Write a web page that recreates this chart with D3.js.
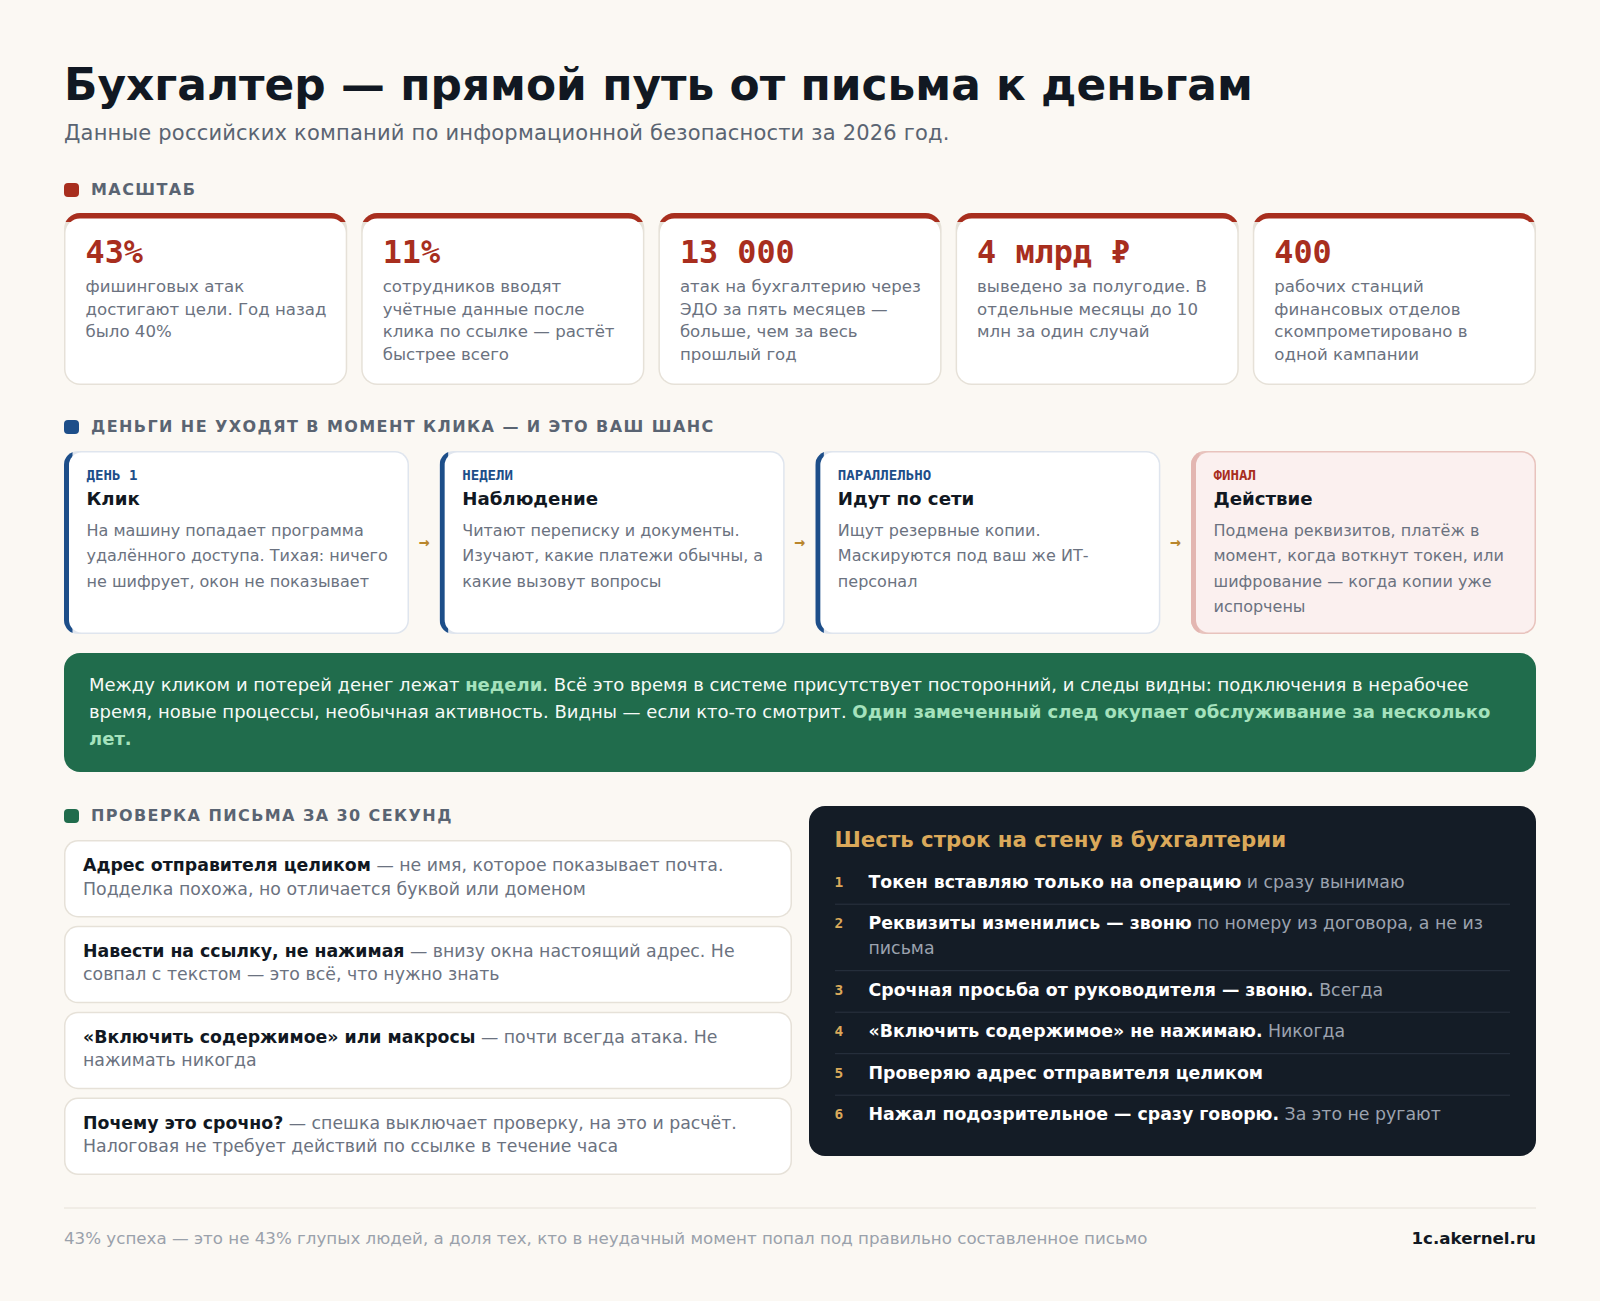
<!DOCTYPE html>
<html lang="ru">
<head>
<meta charset="utf-8">
<title>Бухгалтер — прямой путь от письма к деньгам</title>
<script src="https://cdn.jsdelivr.net/npm/d3@7"></script>
<style>
  html, body { margin: 0; padding: 0; background: #fbf8f3; }
  svg { display: block; }
  text { font-family: "DejaVu Sans", sans-serif; white-space: pre; }
  .mono { font-family: "DejaVu Sans Mono", monospace; font-weight: 700; }
</style>
</head>
<body>
<div id="chart"></div>
<script>
// dimensions
const width = 1600;
const height = 1301;
const left = 64;
const right = 1536;

// texts
const title = "Бухгалтер — прямой путь от письма к деньгам";
const subtitle = "Данные российских компаний по информационной безопасности за 2026 год.";
const sectionScale = "МАСШТАБ";
const sectionFlow = "ДЕНЬГИ НЕ УХОДЯТ В МОМЕНТ КЛИКА — И ЭТО ВАШ ШАНС";
const sectionCheck = "ПРОВЕРКА ПИСЬМА ЗА 30 СЕКУНД";

const statValues = ["43%", "11%", "13 000", "4 млрд ₽", "400"];
const statTexts = [
  ["фишинговых атак", "достигают цели. Год назад", "было 40%"],
  ["сотрудников вводят", "учётные данные после", "клика по ссылке — растёт", "быстрее всего"],
  ["атак на бухгалтерию через", "ЭДО за пять месяцев —", "больше, чем за весь", "прошлый год"],
  ["выведено за полугодие. В", "отдельные месяцы до 10", "млн за один случай"],
  ["рабочих станций", "финансовых отделов", "скомпрометировано в", "одной кампании"]
];

const flowLabels = ["ДЕНЬ 1", "НЕДЕЛИ", "ПАРАЛЛЕЛЬНО", "ФИНАЛ"];
const flowTitles = ["Клик", "Наблюдение", "Идут по сети", "Действие"];
const flowTexts = [
  ["На машину попадает программа", "удалённого доступа. Тихая: ничего", "не шифрует, окон не показывает"],
  ["Читают переписку и документы.", "Изучают, какие платежи обычны, а", "какие вызовут вопросы"],
  ["Ищут резервные копии.", "Маскируются под ваш же ИТ-", "персонал"],
  ["Подмена реквизитов, платёж в", "момент, когда воткнут токен, или", "шифрование — когда копии уже", "испорчены"]
];

// [text, highlighted?]
const bannerLines = [
  [["Между кликом и потерей денег лежат ", 0], ["недели", 1], [". Всё это время в системе присутствует посторонний, и следы видны: подключения в нерабочее", 0]],
  [["время, новые процессы, необычная активность. Видны — если кто-то смотрит. ", 0], ["Один замеченный след окупает обслуживание за несколько", 1]],
  [["лет.", 1]]
];

const checkStrong = ["Адрес отправителя целиком", "Навести на ссылку, не нажимая", "«Включить содержимое» или макросы", "Почему это срочно?"];
const checkRest = [
  " — не имя, которое показывает почта.",
  " — внизу окна настоящий адрес. Не",
  " — почти всегда атака. Не",
  " — спешка выключает проверку, на это и расчёт."
];
const checkSecond = [
  "Подделка похожа, но отличается буквой или доменом",
  "совпал с текстом — это всё, что нужно знать",
  "нажимать никогда",
  "Налоговая не требует действий по ссылке в течение часа"
];

const rulesTitle = "Шесть строк на стену в бухгалтерии";
const ruleStrong = [
  "Токен вставляю только на операцию",
  "Реквизиты изменились — звоню",
  "Срочная просьба от руководителя — звоню.",
  "«Включить содержимое» не нажимаю.",
  "Проверяю адрес отправителя целиком",
  "Нажал подозрительное — сразу говорю."
];
const ruleRest = [
  " и сразу вынимаю",
  " по номеру из договора, а не из",
  " Всегда",
  " Никогда",
  "",
  " За это не ругают"
];
const ruleSecond = ["", "письма", "", "", "", ""];

const footerText = "43% успеха — это не 43% глупых людей, а доля тех, кто в неудачный момент попал под правильно составленное письмо";
const footerSite = "1c.akernel.ru";

// colours
const colors = {
  bg: "#fbf8f3",
  ink: "#111822",
  sub: "#5a6472",
  body: "#6b7280",
  red: "#a82e1e",
  blue: "#1d4e89",
  green: "#206c4c",
  border: "#e6e1d8",
  blueBorder: "#dfe5ee",
  pinkFill: "#fbf0ef",
  pinkBorder: "#e8c3bd",
  pinkAccent: "#e3b6b1",
  arrow: "#b9862c",
  dark: "#141c26",
  gold: "#dba95a",
  mint: "#a5e2bd",
  darkLine: "#2a3340",
  darkText: "#9ca3af",
  foot: "#9aa1ab"
};

const svg = d3.select("#chart").append("svg")
  .attr("width", width)
  .attr("height", height)
  .attr("viewBox", `0 0 ${width} ${height}`);

svg.append("rect").attr("width", width).attr("height", height).attr("fill", colors.bg);

const defs = svg.append("defs");
let clipCount = 0;

// card with one thick side, like css border-left / border-top
function card(parent, x, y, w, h, opt) {
  const g = parent.append("g");
  const r = opt.r;
  const t = opt.thin;
  const a = opt.accentSize;
  g.append("rect").attr("x", x).attr("y", y).attr("width", w).attr("height", h)
    .attr("rx", r).attr("fill", opt.border);
  if (opt.accent) {
    const id = "clip" + (clipCount++);
    const clip = defs.append("clipPath").attr("id", id).append("rect");
    if (opt.side === "top") clip.attr("x", x).attr("y", y).attr("width", w).attr("height", a + 3.5);
    else clip.attr("x", x).attr("y", y).attr("width", a + 3.5).attr("height", h);
    g.append("rect").attr("x", x).attr("y", y).attr("width", w).attr("height", h)
      .attr("rx", r).attr("fill", opt.accent).attr("clip-path", `url(#${id})`);
  }
  const ix = x + (opt.side === "left" ? a : t);
  const iy = y + (opt.side === "top" ? a : t);
  g.append("rect").attr("x", ix).attr("y", iy)
    .attr("width", x + w - t - ix).attr("height", y + h - t - iy)
    .attr("rx", r - t).attr("fill", opt.fill);
  return g;
}

function section(y, label, color) {
  svg.append("rect").attr("x", left).attr("y", y - 12).attr("width", 15).attr("height", 14)
    .attr("rx", 4).attr("fill", color);
  svg.append("text").attr("x", left + 27).attr("y", y)
    .attr("font-size", 16).attr("font-weight", 700).attr("letter-spacing", 1.42)
    .attr("fill", colors.sub).text(label);
}

// header
svg.append("text").attr("x", left).attr("y", 100)
  .attr("font-size", 43.9).attr("font-weight", 700).attr("fill", colors.ink).text(title);
svg.append("text").attr("x", left).attr("y", 140)
  .attr("font-size", 21).attr("letter-spacing", 0.2).attr("fill", colors.sub).text(subtitle);

// --- stats ---
section(195, sectionScale, colors.red);

const xStat = d3.scaleBand().domain(d3.range(statValues.length))
  .range([left, right]).paddingInner(14 / 297.2);

statValues.forEach((v, i) => {
  const x = xStat(i);
  const g = card(svg, x, 213, xStat.bandwidth(), 172, {
    r: 16, thin: 1.5, side: "top", accentSize: 5.5, accent: colors.red, border: colors.border, fill: "#fff"
  });
  g.append("text").attr("class", "mono").attr("x", x + 21.5).attr("y", 263)
    .attr("font-size", 31.8).attr("fill", colors.red).text(v);
  g.selectAll("text.line").data(statTexts[i]).join("text").attr("class", "line")
    .attr("x", x + 21.5).attr("y", (d, k) => 292 + k * 22.5)
    .attr("font-size", 16.6).attr("fill", colors.body).text(d => d);
});

// --- flow ---
section(432, sectionFlow, colors.blue);

const xFlow = d3.scaleBand().domain(d3.range(flowTitles.length))
  .range([left, right]).paddingInner(30.67 / 375.67);

flowTitles.forEach((t, i) => {
  const x = xFlow(i);
  const last = i === flowTitles.length - 1;
  const g = card(svg, x, 451, xFlow.bandwidth(), 183, {
    r: 14, thin: 1.5, side: "left", accentSize: 5,
    accent: last ? colors.pinkAccent : colors.blue,
    border: last ? colors.pinkBorder : colors.blueBorder,
    fill: last ? colors.pinkFill : "#fff"
  });
  g.append("text").attr("class", "mono").attr("x", x + 22.5).attr("y", 480)
    .attr("font-size", 14.1).attr("fill", last ? colors.red : colors.blue).text(flowLabels[i]);
  g.append("text").attr("x", x + 22.5).attr("y", 505)
    .attr("font-size", 18.2).attr("font-weight", 700).attr("fill", colors.ink).text(t);
  g.selectAll("text.line").data(flowTexts[i]).join("text").attr("class", "line")
    .attr("x", x + 22.5).attr("y", (d, k) => 535.8 + k * 25.4)
    .attr("font-size", 16).attr("fill", colors.body).text(d => d);
  if (!last) {
    svg.append("text").attr("class", "mono")
      .attr("x", x + xFlow.bandwidth() + 15.3).attr("y", 548)
      .attr("text-anchor", "middle").attr("font-size", 18)
      .attr("fill", colors.arrow).text("→");
  }
});

// --- banner ---
svg.append("rect").attr("x", left).attr("y", 653).attr("width", right - left).attr("height", 119)
  .attr("rx", 16).attr("fill", colors.green);
bannerLines.forEach((segs, k) => {
  const line = svg.append("text").attr("x", 89).attr("y", 690.7 + k * 27).attr("font-size", 18);
  segs.forEach(s => {
    line.append("tspan").attr("fill", s[1] ? colors.mint : "#f6faf7")
      .attr("font-weight", s[1] ? 700 : 400).text(s[0]);
  });
});

// --- check list ---
section(821, sectionCheck, colors.green);

const yCheck = d3.scaleBand().domain(d3.range(checkStrong.length))
  .range([840, 1175]).paddingInner(8.33 / 85.33);

checkStrong.forEach((s, i) => {
  const y = yCheck(i);
  const g = card(svg, left, y, 728, yCheck.bandwidth(), {
    r: 14, thin: 1.5, side: "none", accentSize: 1.5, border: colors.border, fill: "#fff"
  });
  const first = g.append("text").attr("x", 83).attr("y", y + 31).attr("font-size", 17.33);
  first.append("tspan").attr("font-weight", 700).attr("fill", colors.ink).text(s);
  first.append("tspan").attr("fill", colors.body).text(checkRest[i]);
  g.append("text").attr("x", 83).attr("y", y + 54.6).attr("font-size", 17.33)
    .attr("fill", colors.body).text(checkSecond[i]);
});

// --- rules panel ---
svg.append("rect").attr("x", 809).attr("y", 806).attr("width", right - 809).attr("height", 350)
  .attr("rx", 16).attr("fill", colors.dark);
svg.append("text").attr("x", 834.5).attr("y", 847)
  .attr("font-size", 21.3).attr("font-weight", 700).attr("fill", colors.gold).text(rulesTitle);

let ruleY = 887.7;
ruleStrong.forEach((s, i) => {
  svg.append("text").attr("class", "mono").attr("x", 834.5).attr("y", ruleY - 1)
    .attr("font-size", 14.5).attr("fill", colors.gold).text(i + 1);
  const t = svg.append("text").attr("x", 868.5).attr("y", ruleY).attr("font-size", 17.35);
  t.append("tspan").attr("font-weight", 700).attr("fill", "#fff").text(s);
  t.append("tspan").attr("fill", colors.darkText).text(ruleRest[i]);
  if (ruleSecond[i]) {
    ruleY += 25;
    svg.append("text").attr("x", 868.5).attr("y", ruleY).attr("font-size", 17.35)
      .attr("fill", colors.darkText).text(ruleSecond[i]);
  }
  if (i < ruleStrong.length - 1) {
    svg.append("line").attr("x1", 835).attr("x2", 1510)
      .attr("y1", ruleY + 16.5).attr("y2", ruleY + 16.5)
      .attr("stroke", colors.darkLine).attr("stroke-width", 1);
  }
  ruleY += 41.5;
});

// --- footer ---
svg.append("line").attr("x1", left).attr("x2", right).attr("y1", 1208).attr("y2", 1208)
  .attr("stroke", colors.border).attr("stroke-width", 1);
svg.append("text").attr("x", left).attr("y", 1244)
  .attr("font-size", 16.68).attr("fill", colors.foot).text(footerText);
svg.append("text").attr("x", right).attr("y", 1244).attr("text-anchor", "end")
  .attr("font-size", 16.68).attr("font-weight", 700).attr("fill", colors.ink).text(footerSite);
</script>
</body>
</html>
